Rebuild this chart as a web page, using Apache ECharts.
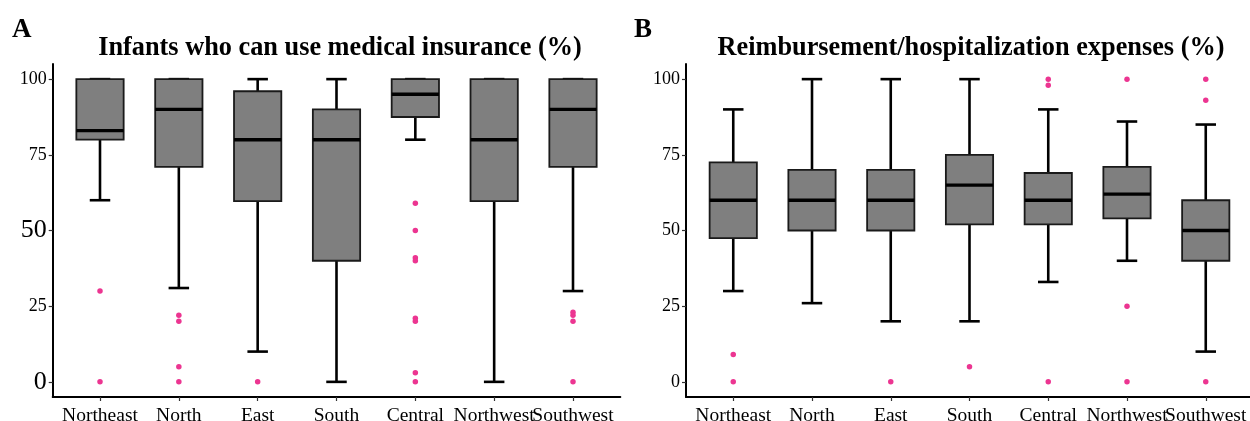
<!DOCTYPE html>
<html>
<head>
<meta charset="utf-8">
<script src="https://cdn.jsdelivr.net/npm/echarts@6/dist/echarts.min.js"></script>
<style>
html,body{margin:0;padding:0;background:#fff;}
#chart{width:1250px;height:421px;}
</style>
</head>
<body>
<div id="chart"></div>
<script>
const categories = ['Northeast','North','East','South','Central','Northwest','Southwest'];
const yTicks = [0, 25, 50, 75, 100];

// Panel A: Infants who can use medical insurance (%)
const insLow  = [60, 31, 10, 0, 80, 0, 30];
const insQ1   = [80, 71, 59.7, 40, 87.5, 59.7, 71];
const insMed  = [83, 90, 80, 80, 95, 80, 90];
const insQ3   = [100, 100, 96, 90, 100, 100, 100];
const insHigh = [100, 100, 100, 100, 100, 100, 100];
const insOutliers = [[30, 0], [22, 20, 5, 0], [0], [], [59, 50, 41, 40, 21, 20, 3, 0], [], [23, 22, 20, 0]];

// Panel B: Reimbursement/hospitalization expenses (%)
const reLow  = [30, 26, 20, 20, 33, 40, 10];
const reQ1   = [47.5, 50, 50, 52, 52, 54, 40];
const reMed  = [60, 60, 60, 65, 60, 62, 50];
const reQ3   = [72.5, 70, 70, 75, 69, 71, 60];
const reHigh = [90, 100, 100, 100, 90, 86, 85];
const reOutliers = [[9, 0], [], [0], [5], [100, 98, 0], [100, 25, 0], [100, 93, 0]];

const FONT = '"Liberation Serif", "Times New Roman", serif';
const BOX_W = 0.6, CAP_W = 0.26;
const catPos = categories.map((c, i) => i + 1);
// empty edge labels keep the library's min/max-label overlap check away from the real labels
const labelPos = [0.41].concat(catPos, [7.59]);

function boxData(lo, q1, md, q3, hi) {
  return categories.map((c, i) => [i + 1, lo[i], q1[i], md[i], q3[i], hi[i]]);
}
function outlierData(out) {
  const d = [];
  out.forEach((arr, i) => arr.forEach(v => d.push([i + 1, v])));
  return d;
}
function renderBox(params, api) {
  const x = api.value(0);
  const lo = api.coord([x, api.value(1)]);
  const q1 = api.coord([x, api.value(2)]);
  const md = api.coord([x, api.value(3)]);
  const q3 = api.coord([x, api.value(4)]);
  const hi = api.coord([x, api.value(5)]);
  const bw = api.size([BOX_W, 0])[0];
  const cw = api.size([CAP_W, 0])[0];
  const wStyle = {stroke: '#000', lineWidth: 2.6};
  return {
    type: 'group',
    children: [
      {type: 'line', shape: {x1: lo[0], y1: lo[1], x2: hi[0], y2: hi[1]}, style: wStyle},
      {type: 'line', shape: {x1: lo[0] - cw / 2, y1: lo[1], x2: lo[0] + cw / 2, y2: lo[1]}, style: wStyle},
      {type: 'line', shape: {x1: hi[0] - cw / 2, y1: hi[1], x2: hi[0] + cw / 2, y2: hi[1]}, style: wStyle},
      {type: 'rect', shape: {x: q3[0] - bw / 2, y: q3[1], width: bw, height: q1[1] - q3[1]},
       style: {fill: '#7f7f7f', stroke: '#1a1a1a', lineWidth: 1.8}},
      {type: 'line', shape: {x1: md[0] - bw / 2, y1: md[1], x2: md[0] + bw / 2, y2: md[1]},
       style: {stroke: '#000', lineWidth: 3.4}}
    ]
  };
}

function xAxis(gi) {
  return {
    type: 'value', gridIndex: gi, min: 0.4, max: 7.6,
    axisLine: {show: true, onZero: false, lineStyle: {color: '#000', width: 2}},
    axisTick: {show: true, length: 4, lineStyle: {color: '#333', width: 1.2}, customValues: catPos},
    axisLabel: {customValues: labelPos, margin: 9, color: '#000', fontFamily: FONT, fontSize: 19.5,
      showMinLabel: true, showMaxLabel: true, hideOverlap: false,
      formatter: v => (Math.abs(v - Math.round(v)) < 1e-6 && categories[Math.round(v) - 1]) ? categories[Math.round(v) - 1] : ''},
    splitLine: {show: false}
  };
}
function yAxis(gi, bigLabels) {
  return {
    type: 'value', gridIndex: gi, min: -5, max: 105,
    axisLine: {show: true, onZero: false, lineStyle: {color: '#000', width: 2}},
    axisTick: {show: true, length: 4, lineStyle: {color: '#333', width: 1.2}, customValues: yTicks},
    axisLabel: {customValues: yTicks, margin: 6, color: '#000', fontFamily: FONT, fontSize: 18,
      showMinLabel: true, showMaxLabel: true,
      formatter: v => (bigLabels && (v === 50 || v === 0)) ? '{big|' + v + '}' : String(v),
      rich: {big: {fontSize: 26, fontFamily: FONT, color: '#000'}}},
    splitLine: {show: false}
  };
}

const chart = echarts.init(document.getElementById('chart'));
chart.setOption({
  backgroundColor: '#fff',
  animation: false,
  title: [
    {text: 'A', left: 7, top: 12, textStyle: {fontFamily: FONT, fontWeight: 'bold', fontSize: 27, color: '#000'}},
    {text: 'B', left: 629, top: 12, textStyle: {fontFamily: FONT, fontWeight: 'bold', fontSize: 27, color: '#000'}},
    {text: 'Infants who can use medical insurance (%)', left: 335, textAlign: 'center', top: 30,
     textStyle: {fontFamily: FONT, fontWeight: 'bold', fontSize: 26.3, color: '#000'}},
    {text: 'Reimbursement/hospitalization expenses (%)', left: 966, textAlign: 'center', top: 30,
     textStyle: {fontFamily: FONT, fontWeight: 'bold', fontSize: 26.3, color: '#000'}}
  ],
  grid: [
    {left: 52.7, top: 64, width: 567.6, height: 333, outerBoundsMode: 'none', containLabel: false},
    {left: 686, top: 64, width: 567, height: 333, outerBoundsMode: 'none', containLabel: false}
  ],
  xAxis: [xAxis(0), xAxis(1)],
  yAxis: [yAxis(0, true), yAxis(1, false)],
  series: [
    {type: 'custom', xAxisIndex: 0, yAxisIndex: 0, renderItem: renderBox,
     data: boxData(insLow, insQ1, insMed, insQ3, insHigh), encode: {x: 0, y: [1, 2, 3, 4, 5]}},
    {type: 'scatter', xAxisIndex: 0, yAxisIndex: 0, symbolSize: 5.5,
     itemStyle: {color: '#EC3591', opacity: 1}, data: outlierData(insOutliers)},
    {type: 'custom', xAxisIndex: 1, yAxisIndex: 1, renderItem: renderBox,
     data: boxData(reLow, reQ1, reMed, reQ3, reHigh), encode: {x: 0, y: [1, 2, 3, 4, 5]}},
    {type: 'scatter', xAxisIndex: 1, yAxisIndex: 1, symbolSize: 5.5,
     itemStyle: {color: '#EC3591', opacity: 1}, data: outlierData(reOutliers)}
  ]
});
</script>
</body>
</html>
